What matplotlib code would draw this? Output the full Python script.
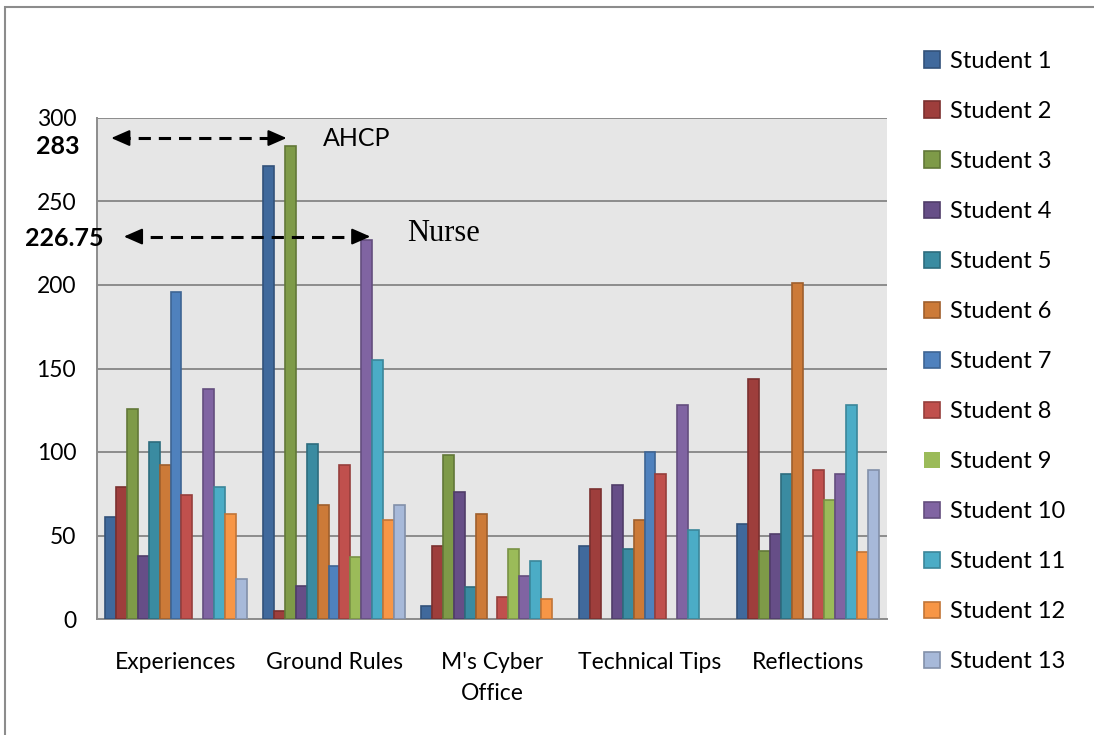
import matplotlib
matplotlib.use("Agg")
import matplotlib.pyplot as plt
import matplotlib.colors as mcolors
from matplotlib.patches import Rectangle
import numpy as np

categories = ["Experiences", "Ground Rules", "M's Cyber\nOffice", "Technical Tips", "Reflections"]
students = ["Student %d" % i for i in range(1, 14)]

# values per category, Student 1 .. Student 13
experiences = [61, 79, 126, 38, 106, 92, 196, 74, 0, 138, 79, 63, 24]
ground_rules = [271, 5, 283, 20, 105, 68, 32, 92, 37, 226.75, 155, 59, 68]
cyber_office = [8, 44, 98, 76, 19, 63, 0, 13, 42, 26, 35, 12, 0]
technical_tips = [44, 78, 0, 80, 42, 59, 100, 87, 0, 128, 53, 0, 0]
reflections = [57, 144, 41, 51, 87, 201, 0, 89, 71, 87, 128, 40, 89]

colors = ['#40699C', '#9E3E3C', '#7E9A48', '#664E87', '#3A8BA1', '#CC7A38', '#4F81BD',
          '#C0504D', '#9BBB59', '#8064A2', '#4BACC6', '#F79646', '#A7B9D9']

data = np.array([experiences, ground_rules, cyber_office, technical_tips, reflections])

plt.rcParams['font.family'] = ['Lato', 'DejaVu Sans']

fig = plt.figure(figsize=(10.94, 7.35), dpi=100)
ax = fig.add_axes([97 / 1094, 116 / 735, 790 / 1094, 501 / 735])
ax.set_facecolor('#E6E6E6')

x = np.arange(len(categories))
n = len(students)
w = 0.905 / n
for i in range(n):
    vals = data[:, i]
    fc = colors[i]
    ec = tuple(c * 0.78 for c in mcolors.to_rgb(fc))
    lw = [0 if v == 0 else 1.2 for v in vals]
    ax.bar(x + (i - (n - 1) / 2) * w, vals, width=w, color=fc, edgecolor=ec,
           linewidth=lw, label=students[i], zorder=3)

ax.set_xlim(-0.5, 4.5)
ax.set_ylim(0, 300)
ax.set_yticks(range(0, 301, 50))
ax.set_xticks(x)
ax.set_xticklabels(categories, linespacing=1.55)
ax.tick_params(axis='y', length=0, pad=15, labelsize=16.5)
ax.tick_params(axis='x', length=0, pad=24, labelsize=16.5)
ax.grid(axis='y', color='#8C8C8C', linewidth=1.4, zorder=1)
for s in ['top', 'right']:
    ax.spines[s].set_visible(False)
for s in ['left', 'bottom']:
    ax.spines[s].set_color('#8C8C8C')
    ax.spines[s].set_linewidth(1.4)


def dashed_arrow(x0, x1, y):
    # dashed shaft, solid heads at both ends
    ax.plot([x0 + 0.04, x1 - 0.04], [y, y], color='black', lw=2.2, dashes=(4, 2.6),
            zorder=5, clip_on=False)
    head = dict(arrowstyle='-|>,head_length=0.8,head_width=0.35', color='black', lw=1.5,
                mutation_scale=14, shrinkA=0, shrinkB=0)
    ax.annotate('', xy=(x0, y), xytext=(x0 + 0.07, y), arrowprops=head, annotation_clip=False)
    ax.annotate('', xy=(x1, y), xytext=(x1 - 0.07, y), arrowprops=head, annotation_clip=False)


dashed_arrow(-0.41, 0.70, 288)
dashed_arrow(-0.33, 1.23, 229)
ax.text(0.93, 288, 'AHCP', fontsize=18, va='center', ha='left')
ax.text(1.46, 231, 'Nurse', fontsize=22, va='center', ha='left', family='Liberation Serif')

tr = ax.get_yaxis_transform()
ax.text(-0.022, 283, '283', transform=tr, fontsize=18, fontweight='bold', ha='right', va='center')
ax.text(0.008, 228, '226.75', transform=tr, fontsize=18, fontweight='bold', ha='right',
        va='center', clip_on=False)

leg = ax.legend(loc='upper left', bbox_to_anchor=(1.035, 1.153), frameon=False, fontsize=17,
                handlelength=0.68, handleheight=0.68, handletextpad=0.4, labelspacing=1.23,
                borderaxespad=0)

fig.patches.append(Rectangle((5 / 1094, -0.05), 1.2, 1 - 7 / 735 + 0.05, transform=fig.transFigure,
                             fill=False, edgecolor='#8C8C8C', linewidth=1.5))

fig.savefig('out.png', dpi=100)
